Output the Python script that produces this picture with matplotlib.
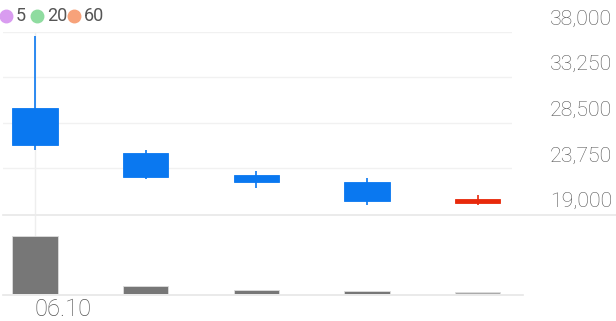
import matplotlib.pyplot as plt
from matplotlib.lines import Line2D
import matplotlib.transforms as mtransforms

plt.rcParams['font.family'] = ['Roboto', 'DejaVu Sans']

# candle data
opens = [30000, 25360, 23030, 22350, 20120]
closes = [26150, 22870, 22350, 20370, 20580]
highs = [37580, 25700, 23520, 22760, 20950]
lows = [25630, 22660, 21720, 19990, 19910]
volumes = [350000, 48000, 24000, 20000, 12000]
vol_colors = ['#777777', '#777777', '#777777', '#777777', '#aaaaaa']
x_labels = ['06.10']
y_ticks = [19000, 23750, 28500, 33250, 38000]
ma_names = ['5', '20', '60']
ma_colors = ['#d99cf0', '#8fdca0', '#f7a27a']

W, H = 616, 321
fig = plt.figure(figsize=(W / 100, H / 100), dpi=100)

def rect(x0, y0, x1, y1):
    return [x0 / W, 1 - y1 / H, (x1 - x0) / W, (y1 - y0) / H]

ax = fig.add_axes(rect(3, 31.7, 512, 214))
axv = fig.add_axes(rect(3, 216, 512, 294))

xs = list(range(len(opens)))
up_c, down_c = '#e8290b', '#0a78f0'
bw = 0.407
for i in xs:
    c = up_c if closes[i] >= opens[i] else down_c
    ax.vlines(i, lows[i], highs[i], color=c, lw=1.2, zorder=3)
    lo, hi = min(opens[i], closes[i]), max(opens[i], closes[i])
    ax.bar(i, hi - lo, bottom=lo, width=bw, color=c, edgecolor=c, lw=0.6, zorder=4)

axv.bar(xs, volumes, width=bw, color=vol_colors, edgecolor='#dddddd', lw=0.6, zorder=3)

xlim = (-0.289, 4.31)
for a in (ax, axv):
    a.set_xlim(*xlim)
    a.axvline(0, color='#eeeeee', lw=1, zorder=0)
    for s in a.spines.values():
        s.set_visible(False)
    a.set_xticks([])
    a.set_yticks([])
    a.patch.set_alpha(0)

ax.set_ylim(19000, 38000)
axv.set_ylim(0, 468000)

for t in y_ticks[1:]:
    ax.axhline(t, color='#f1f1f1', lw=1, zorder=0)

# tick labels on right
trans = mtransforms.blended_transform_factory(fig.transFigure, ax.transData)
off = mtransforms.ScaledTranslation(0, 7 / 100, fig.dpi_scale_trans)
for t in y_ticks:
    ax.text(612 / W, t, f'{t:,}', transform=trans + off,
            ha='right', va='baseline', fontsize=15.3, color='#555555', fontweight='light')

# separators
fig.add_artist(Line2D([3 / W, 1], [1 - 214.5 / H] * 2, color='#e8e8e8', lw=1.2))
fig.add_artist(Line2D([3 / W, 523 / W], [1 - 294.5 / H] * 2, color='#e6e6e6', lw=1.2))

# date label
fig.text(34 / W, 1 - 316.5 / H, x_labels[0], ha='left', va='baseline', fontsize=17,
         color='#555555', fontweight='light')

# legend
lx = [6, 37, 74]
tx = [15.5, 47, 84]
for n, c, x0, x1 in zip(ma_names, ma_colors, lx, tx):
    fig.add_artist(Line2D([x0 / W], [1 - 16 / H], marker='o', ms=9, color=c, lw=0))
    fig.text(x1 / W, 1 - 16 / H, n, ha='left', va='center', fontsize=13,
             color='#555555')

fig.savefig('out.png', dpi=100)
